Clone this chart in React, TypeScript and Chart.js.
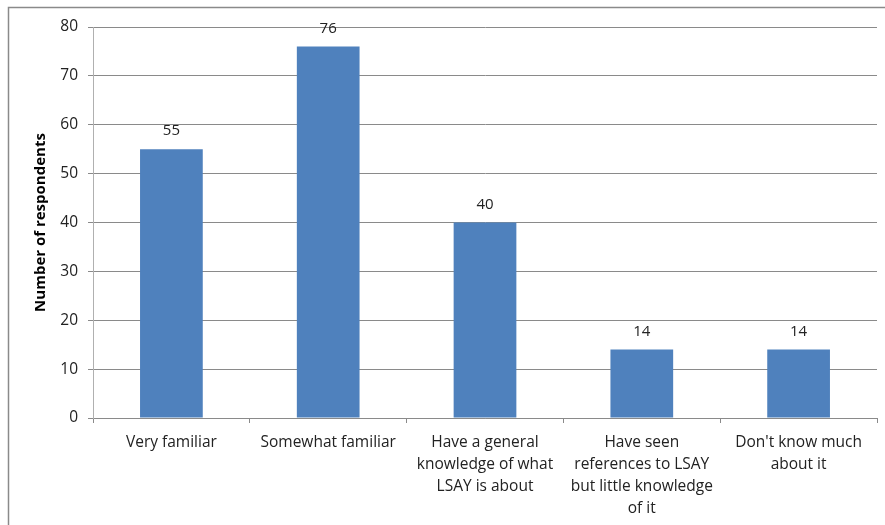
import React, { useEffect, useRef } from "react";
import { Chart, registerables } from "chart.js";

Chart.register(...registerables);

const categories: (string | string[])[] = [
  "Very familiar",
  "Somewhat familiar",
  ["Have a general", "knowledge of what", "LSAY is about"],
  ["Have seen", "references to LSAY", "but little knowledge", "of it"],
  ["Don't know much", "about it"],
];
const respondents = [55, 76, 40, 14, 14];
const yTicks = [0, 10, 20, 30, 40, 50, 60, 70, 80];
const yTitle = "Number of respondents";

const FONT = "'Open Sans', 'DejaVu Sans', sans-serif";

const frame = {
  id: "frame",
  afterDraw(chart: any) {
    const ctx = chart.ctx;
    ctx.save();
    ctx.strokeStyle = "#8a8a8a";
    ctx.lineWidth = 1.5;
    ctx.beginPath();
    ctx.moveTo(8.5, 525);
    ctx.lineTo(8.5, 7.5);
    ctx.lineTo(885, 7.5);
    ctx.stroke();
    ctx.restore();
  },
};

const valueLabels = {
  id: "valueLabels",
  afterDatasetsDraw(chart: any) {
    const ctx = chart.ctx;
    const meta = chart.getDatasetMeta(0);
    ctx.save();
    ctx.fillStyle = "#222";
    ctx.font = `15px ${FONT}`;
    ctx.textAlign = "center";
    ctx.textBaseline = "middle";
    meta.data.forEach((bar: any, i: number) => {
      ctx.fillText(String(chart.data.datasets[0].data[i]), bar.x, bar.y - 18);
    });
    ctx.restore();
  },
};

export default function App() {
  const ref = useRef<HTMLCanvasElement | null>(null);
  useEffect(() => {
    if (!ref.current) return;
    const chart = new Chart(ref.current, {
      type: "bar",
      data: {
        labels: categories,
        datasets: [
          {
            data: respondents,
            backgroundColor: "#4F81BD",
            barPercentage: 1,
            categoryPercentage: 0.4,
          },
        ],
      },
      options: {
        responsive: false,
        animation: false,
        events: [],
        layout: { padding: { top: 27, right: 8, left: 0, bottom: 0 } },
        plugins: { legend: { display: false }, tooltip: { enabled: false } },
        scales: {
          x: {
            afterFit(scale: any) {
              scale.height = 107;
            },
            grid: {
              offset: true,
              drawOnChartArea: false,
              color: "#8a8a8a",
              tickLength: 5,
            },
            border: { color: "#8a8a8a" },
            ticks: {
              color: "#222",
              font: { family: FONT, size: 15.5, lineHeight: 1.42 },
              padding: 9,
              maxRotation: 0,
              autoSkip: false,
            },
          },
          y: {
            min: 0,
            max: 80,
            afterFit(scale: any) {
              scale.width = 93;
            },
            afterBuildTicks(scale: any) {
              scale.ticks = yTicks.map((v) => ({ value: v }));
            },
            grid: { color: "#8a8a8a", tickLength: 5 },
            border: { color: "#b0b0b0" },
            ticks: {
              color: "#222",
              font: { family: FONT, size: 15.5 },
              padding: 10,
            },
            title: {
              display: true,
              text: yTitle,
              color: "#000",
              font: { family: FONT, size: 15, weight: "bold" },
              padding: { top: 32, bottom: 0 },
            },
          },
        },
      },
      plugins: [frame, valueLabels],
    } as any);
    return () => chart.destroy();
  }, []);
  return (
    <div style={{ position: "absolute", left: 0, top: 0, width: 885, height: 525, background: "#fff" }}>
      <canvas ref={ref} width={885} height={525} />
    </div>
  );
}
